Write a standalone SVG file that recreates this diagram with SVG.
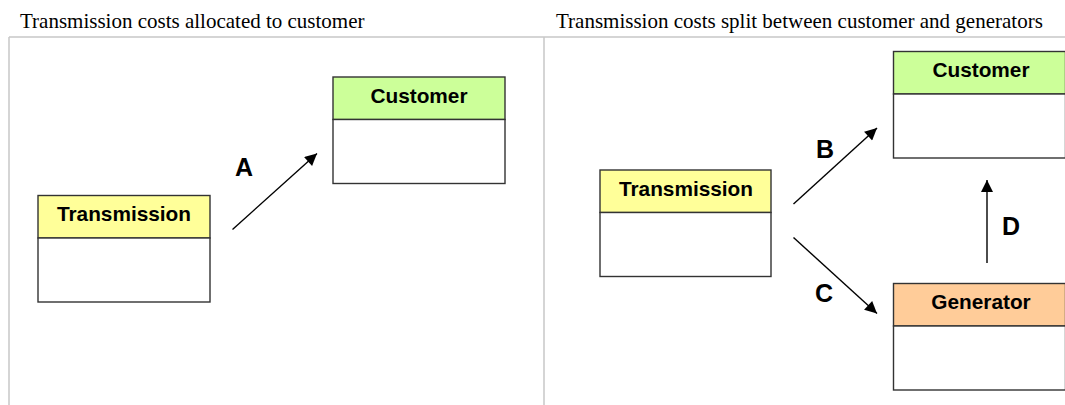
<svg xmlns="http://www.w3.org/2000/svg" width="1065" height="405" viewBox="0 0 1065 405">
<style>
.title{font-family:"Liberation Serif","Times New Roman",serif;font-size:21px;fill:#000}
.hdr{font-family:"Liberation Sans",Arial,sans-serif;font-size:20.8px;font-weight:bold;fill:#000;text-anchor:middle}
.lbl{font-family:"Liberation Sans",Arial,sans-serif;font-size:25px;font-weight:bold;fill:#000;text-anchor:middle}
.box{stroke:#333;stroke-width:1.4}
.frame{stroke:#c8c8c8;stroke-width:1.5;fill:none}
.conn{stroke:#000;stroke-width:1.4;fill:none}
</style>
<defs>
<marker id="arr" viewBox="0 0 10 10" refX="10" refY="5" markerWidth="15" markerHeight="12" markerUnits="userSpaceOnUse" orient="auto">
<path d="M0,0 L10,5 L0,10 Z" fill="#000"/>
</marker>
</defs>
<rect width="1065" height="405" fill="#fff"/>
<g id="frames">
<text class="title" x="20" y="27.5">Transmission costs allocated to customer</text>
<text class="title" x="556" y="27.5">Transmission costs split between customer and generators</text>
<path class="frame" d="M9,37 H1065 M9,37 V405 M544,37 V405"/>
</g>
<g id="node-transmission-left">
<rect class="box" x="38" y="195.5" width="172" height="42.5" fill="#FFFF99"/>
<rect class="box" x="38" y="238" width="172" height="64" fill="#fff"/>
<text class="hdr" x="124" y="221">Transmission</text>
</g>
<g id="node-customer-left">
<rect class="box" x="333" y="77" width="172" height="42.5" fill="#CCFF99"/>
<rect class="box" x="333" y="119.5" width="172" height="64" fill="#fff"/>
<text class="hdr" x="419" y="103">Customer</text>
</g>
<g id="node-transmission-right">
<rect class="box" x="600" y="170" width="171" height="42.5" fill="#FFFF99"/>
<rect class="box" x="600" y="212.5" width="171" height="64" fill="#fff"/>
<text class="hdr" x="686" y="195.5">Transmission</text>
</g>
<g id="node-customer-right">
<rect class="box" x="893.5" y="51.5" width="172" height="42.5" fill="#CCFF99"/>
<rect class="box" x="893.5" y="94" width="172" height="64" fill="#fff"/>
<text class="hdr" x="981" y="77">Customer</text>
</g>
<g id="node-generator">
<rect class="box" x="893.5" y="283.5" width="172" height="42.5" fill="#FFCC99"/>
<rect class="box" x="893.5" y="326" width="172" height="64" fill="#fff"/>
<text class="hdr" x="981" y="309">Generator</text>
</g>
<g id="connectors">
<line class="conn" x1="232.5" y1="229.5" x2="317" y2="153.5" marker-end="url(#arr)"/>
<line class="conn" x1="793.5" y1="204" x2="877" y2="128" marker-end="url(#arr)"/>
<line class="conn" x1="793.5" y1="237.5" x2="877" y2="313.5" marker-end="url(#arr)"/>
<line class="conn" x1="987" y1="263" x2="987" y2="180" marker-end="url(#arr)"/>
<text class="lbl" x="244" y="176">A</text>
<text class="lbl" x="825" y="158">B</text>
<text class="lbl" x="824" y="302">C</text>
<text class="lbl" x="1011" y="235">D</text>
</g>
</svg>
